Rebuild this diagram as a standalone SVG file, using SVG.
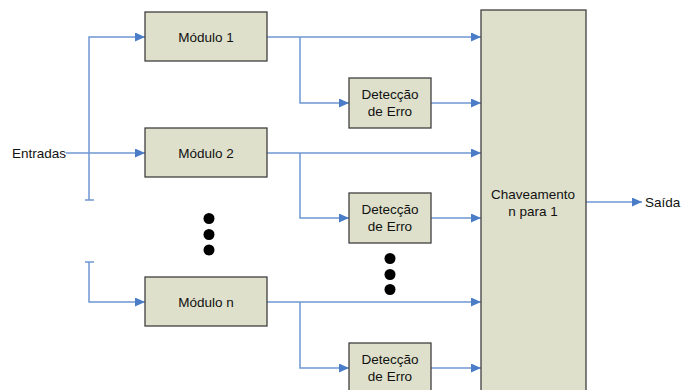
<svg xmlns="http://www.w3.org/2000/svg" width="681" height="390" viewBox="0 0 681 390">
  <defs>
    <marker id="arrow" markerUnits="userSpaceOnUse" markerWidth="11" markerHeight="9" refX="10" refY="4.5" orient="auto">
      <path d="M0,0 L10,4.5 L0,9 Z" fill="#4a7cc7"/>
    </marker>
    <style>
      .box { fill: #dee0cb; stroke: #404040; stroke-width: 1.3; }
      .wire { fill: none; stroke: #6f97d2; stroke-width: 1.5; }
      .arr { marker-end: url(#arrow); }
      text { font-family: "Liberation Sans", Arial, sans-serif; font-size: 13.5px; fill: #111; }
      .c { text-anchor: middle; }
      .dot { fill: #000; }
    </style>
  </defs>
  <rect width="681" height="390" fill="#fff"/>

  <g id="connectors">
    <!-- input bus -->
    <path class="wire arr" d="M89,200 V37 H145"/>
    <path class="wire" d="M85,200 H94"/>
    <path class="wire arr" d="M66,153 H145"/>
    <path class="wire arr" d="M89,262 V302 H145"/>
    <path class="wire" d="M85,262 H94"/>
    <!-- module 1 outputs -->
    <path class="wire arr" d="M267,37 H481"/>
    <path class="wire arr" d="M300,37 V103 H349"/>
    <path class="wire arr" d="M431,103 H481"/>
    <!-- module 2 outputs -->
    <path class="wire arr" d="M267,153 H481"/>
    <path class="wire arr" d="M300,153 V218 H349"/>
    <path class="wire arr" d="M431,218 H481"/>
    <!-- module n outputs -->
    <path class="wire arr" d="M267,302 H481"/>
    <path class="wire arr" d="M300,302 V368 H349"/>
    <path class="wire arr" d="M431,368 H481"/>
    <!-- switch output -->
    <path class="wire arr" d="M586,202 H642"/>
  </g>

  <text x="12" y="158">Entradas</text>
  <text x="645" y="207">Saída</text>

  <g id="modulo1">
    <rect class="box" x="145" y="12" width="122" height="49"/>
    <text class="c" x="206" y="42">Módulo 1</text>
  </g>
  <g id="modulo2">
    <rect class="box" x="145" y="128" width="122" height="49"/>
    <text class="c" x="206" y="158">Módulo 2</text>
  </g>
  <g id="modulon">
    <rect class="box" x="145" y="277" width="122" height="49"/>
    <text class="c" x="206" y="307">Módulo n</text>
  </g>

  <g id="deteccao1">
    <rect class="box" x="349" y="78" width="82" height="50"/>
    <text class="c" x="390" y="99">Detecção</text>
    <text class="c" x="390" y="116">de Erro</text>
  </g>
  <g id="deteccao2">
    <rect class="box" x="349" y="193" width="82" height="50"/>
    <text class="c" x="390" y="214">Detecção</text>
    <text class="c" x="390" y="231">de Erro</text>
  </g>
  <g id="deteccao3">
    <rect class="box" x="349" y="343" width="82" height="50"/>
    <text class="c" x="390" y="364">Detecção</text>
    <text class="c" x="390" y="381">de Erro</text>
  </g>

  <g id="chaveamento">
    <rect class="box" x="481" y="10" width="105" height="390"/>
    <text class="c" x="533" y="199">Chaveamento</text>
    <text class="c" x="533" y="216">n para 1</text>
  </g>

  <g id="ellipsis">
    <circle class="dot" cx="209" cy="218.5" r="5.5"/>
    <circle class="dot" cx="209" cy="234.5" r="5.5"/>
    <circle class="dot" cx="209" cy="250" r="5.5"/>
    <circle class="dot" cx="390" cy="258.5" r="5.5"/>
    <circle class="dot" cx="390" cy="274.5" r="5.5"/>
    <circle class="dot" cx="390" cy="289.5" r="5.5"/>
  </g>
</svg>
